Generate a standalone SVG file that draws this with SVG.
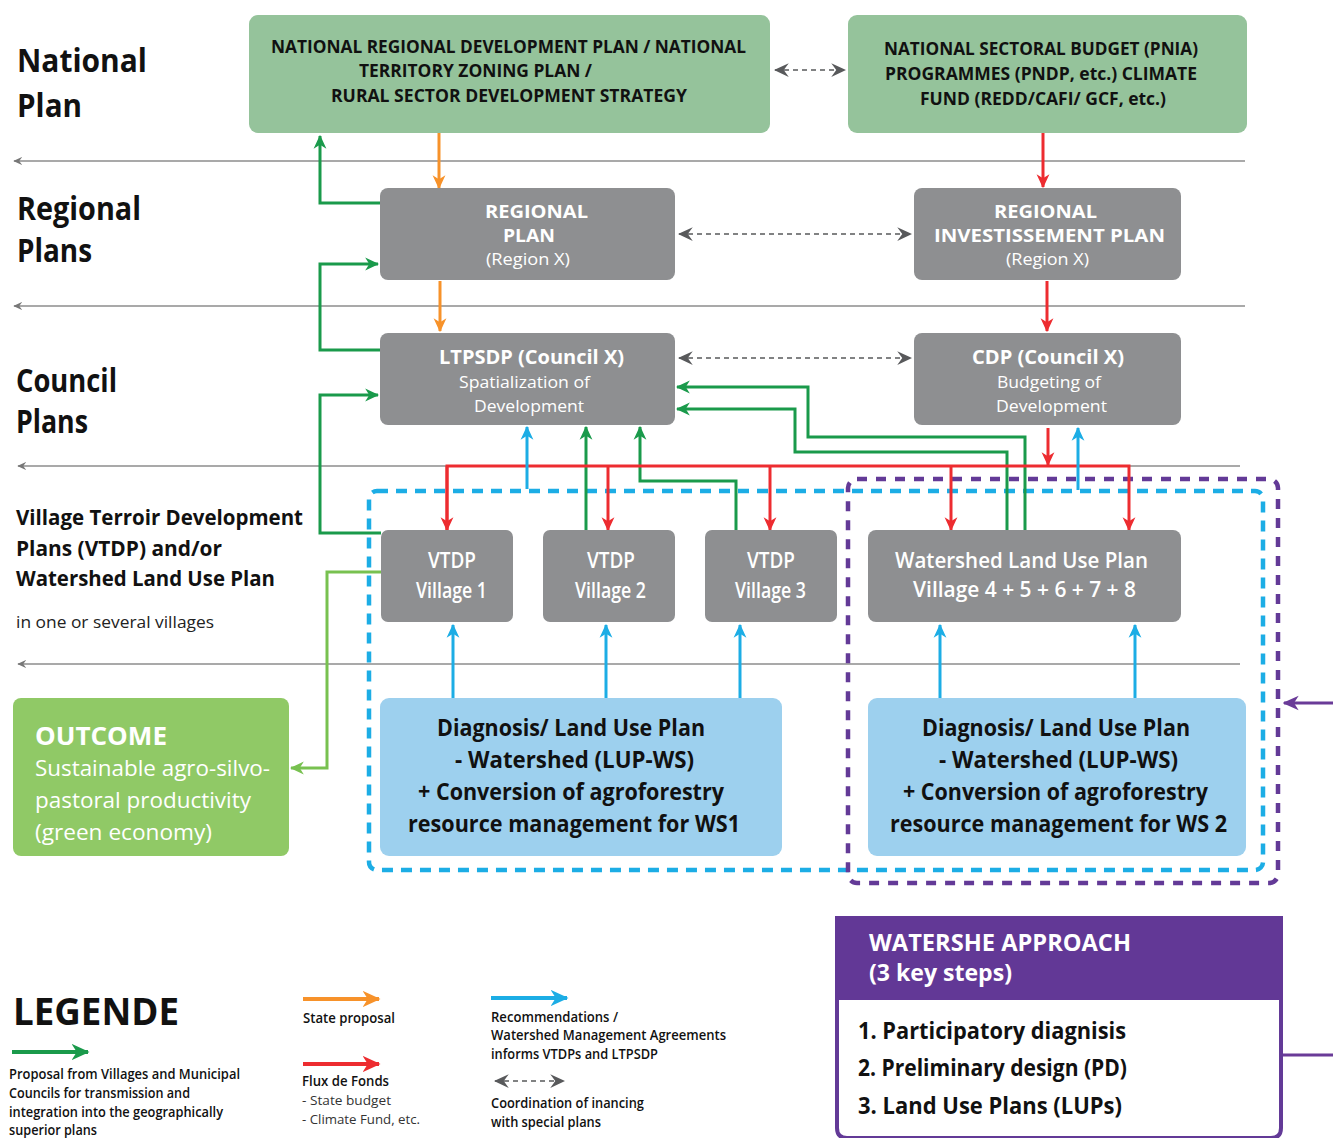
<svg xmlns="http://www.w3.org/2000/svg" width="1333" height="1138" viewBox="0 0 1333 1138">
<style>
text{font-family:"Open Sans","Noto Sans","Liberation Sans",sans-serif}
.b{font-weight:700}
.s{font-weight:600}
.w{fill:#ffffff}
.k{fill:#111111}
.c{stroke-width:3;fill:none}
.sep{stroke:#8c8c8c;stroke-width:1.3;fill:none;marker-start:url(#ms)}
.dg{stroke:#58595b;stroke-width:1.6;stroke-dasharray:5,4;fill:none;marker-start:url(#mg);marker-end:url(#mg)}
.grn{fill:#95c39b}
.gry{fill:#8e8f91}
.blu{fill:#9dd0ee}
</style>
<defs>
<marker id="mG" viewBox="0 0 12 12" refX="11" refY="6" markerWidth="14" markerHeight="14" markerUnits="userSpaceOnUse" orient="auto"><path d="M0,0.5 L12,6 L0,11.5 L3.5,6 z" fill="#1a9a4b"/></marker>
<marker id="mO" viewBox="0 0 12 12" refX="11" refY="6" markerWidth="14" markerHeight="14" markerUnits="userSpaceOnUse" orient="auto"><path d="M0,0.5 L12,6 L0,11.5 L3.5,6 z" fill="#f7922a"/></marker>
<marker id="mR" viewBox="0 0 12 12" refX="11" refY="6" markerWidth="14" markerHeight="14" markerUnits="userSpaceOnUse" orient="auto"><path d="M0,0.5 L12,6 L0,11.5 L3.5,6 z" fill="#ed2c30"/></marker>
<marker id="mB" viewBox="0 0 12 12" refX="11" refY="6" markerWidth="14" markerHeight="14" markerUnits="userSpaceOnUse" orient="auto"><path d="M0,0.5 L12,6 L0,11.5 L3.5,6 z" fill="#1cade5"/></marker>
<marker id="mL" viewBox="0 0 12 12" refX="11" refY="6" markerWidth="14" markerHeight="14" markerUnits="userSpaceOnUse" orient="auto"><path d="M0,0.5 L12,6 L0,11.5 L3.5,6 z" fill="#78c150"/></marker>
<marker id="mP" viewBox="0 0 12 12" refX="11" refY="6" markerWidth="16" markerHeight="16" markerUnits="userSpaceOnUse" orient="auto"><path d="M0,0.5 L12,6 L0,11.5 L3.5,6 z" fill="#6a3b98"/></marker>
<marker id="mg" viewBox="0 0 12 12" refX="11" refY="6" markerWidth="15" markerHeight="15" markerUnits="userSpaceOnUse" orient="auto-start-reverse"><path d="M0,0.5 L12,6 L0,11.5 L4,6 z" fill="#58595b"/></marker>
<marker id="ms" viewBox="0 0 12 12" refX="11" refY="6" markerWidth="9" markerHeight="9" markerUnits="userSpaceOnUse" orient="auto-start-reverse"><path d="M0,0.5 L12,6 L0,11.5 L4,6 z" fill="#777777"/></marker>
<marker id="lG" viewBox="0 0 12 12" refX="11" refY="6" markerWidth="18" markerHeight="18" markerUnits="userSpaceOnUse" orient="auto"><path d="M0,0.5 L12,6 L0,11.5 L3.5,6 z" fill="#1a9a4b"/></marker>
<marker id="lO" viewBox="0 0 12 12" refX="11" refY="6" markerWidth="18" markerHeight="18" markerUnits="userSpaceOnUse" orient="auto"><path d="M0,0.5 L12,6 L0,11.5 L3.5,6 z" fill="#f7922a"/></marker>
<marker id="lR" viewBox="0 0 12 12" refX="11" refY="6" markerWidth="18" markerHeight="18" markerUnits="userSpaceOnUse" orient="auto"><path d="M0,0.5 L12,6 L0,11.5 L3.5,6 z" fill="#ed2c30"/></marker>
<marker id="lB" viewBox="0 0 12 12" refX="11" refY="6" markerWidth="18" markerHeight="18" markerUnits="userSpaceOnUse" orient="auto"><path d="M0,0.5 L12,6 L0,11.5 L3.5,6 z" fill="#1cade5"/></marker>
</defs>

<!-- level separators -->
<g id="separators">
<line class="sep" x1="14" y1="161" x2="1245" y2="161"/>
<line class="sep" x1="14" y1="306" x2="1245" y2="306"/>
<line class="sep" x1="18" y1="466" x2="1240" y2="466"/>
<line class="sep" x1="18" y1="664" x2="1240" y2="664"/>
</g>

<!-- level labels -->
<g id="level-labels" class="k">
<text class="b" x="17" y="72" font-size="32" textLength="130" lengthAdjust="spacingAndGlyphs">National</text>
<text class="b" x="17" y="117" font-size="32" textLength="65" lengthAdjust="spacingAndGlyphs">Plan</text>
<text class="b" x="17" y="220" font-size="32" textLength="124" lengthAdjust="spacingAndGlyphs">Regional</text>
<text class="b" x="17" y="262" font-size="32" textLength="75" lengthAdjust="spacingAndGlyphs">Plans</text>
<text class="b" x="16" y="392" font-size="32" textLength="101" lengthAdjust="spacingAndGlyphs">Council</text>
<text class="b" x="16" y="433" font-size="32" textLength="72" lengthAdjust="spacingAndGlyphs">Plans</text>
<text class="b" x="16" y="525" font-size="21" textLength="287" lengthAdjust="spacingAndGlyphs">Village Terroir Development</text>
<text class="b" x="16" y="556" font-size="21" textLength="206" lengthAdjust="spacingAndGlyphs">Plans (VTDP) and/or</text>
<text class="b" x="16" y="586" font-size="21" textLength="259" lengthAdjust="spacingAndGlyphs">Watershed Land Use Plan</text>
<text x="16" y="628" font-size="17" fill="#222" textLength="198" lengthAdjust="spacingAndGlyphs">in one or several villages</text>
</g>

<!-- group frames -->
<g id="frames" fill="none">
<rect x="369" y="491" width="894" height="379" rx="8" stroke="#1cade5" stroke-width="4.5" stroke-dasharray="11,8"/>
<rect x="848" y="479" width="430" height="404" rx="9" stroke="#633a97" stroke-width="4.5" stroke-dasharray="10,9"/>
</g>

<!-- connectors -->
<g id="connectors">
<line class="dg" x1="775" y1="70" x2="845" y2="70"/>
<line class="dg" x1="679" y1="234" x2="911" y2="234"/>
<line class="dg" x1="679" y1="358" x2="911" y2="358"/>

<line class="c" stroke="#f7922a" x1="439" y1="133" x2="439" y2="188" marker-end="url(#mO)"/>
<line class="c" stroke="#f7922a" x1="440" y1="281" x2="440" y2="331" marker-end="url(#mO)"/>

<line class="c" stroke="#ed2c30" x1="1043" y1="133" x2="1043" y2="187" marker-end="url(#mR)"/>
<line class="c" stroke="#ed2c30" x1="1047" y1="281" x2="1047" y2="331" marker-end="url(#mR)"/>

<polyline class="c" stroke="#1a9a4b" points="380,203 320,203 320,136" marker-end="url(#mG)"/>
<polyline class="c" stroke="#1a9a4b" points="380,350 320,350 320,264 378,264" marker-end="url(#mG)"/>
<polyline class="c" stroke="#1a9a4b" points="381,533 320,533 320,395 378,395" marker-end="url(#mG)"/>
<polyline class="c" stroke="#1a9a4b" points="1025,531 1025,437 808,437 808,387 677,387" marker-end="url(#mG)"/>
<polyline class="c" stroke="#1a9a4b" points="1007,531 1007,452 795,452 795,409 677,409" marker-end="url(#mG)"/>
<line class="c" stroke="#1a9a4b" x1="586" y1="530" x2="586" y2="427" marker-end="url(#mG)"/>
<polyline class="c" stroke="#1a9a4b" points="736,531 736,481 640,481 640,427" marker-end="url(#mG)"/>

<line class="c" stroke="#ed2c30" x1="1048" y1="428" x2="1048" y2="465" marker-end="url(#mR)"/>
<polyline class="c" stroke="#ed2c30" points="447,530 447,466 1129,466 1129,530" marker-end="url(#mR)"/>
<line class="c" stroke="#ed2c30" x1="447" y1="466" x2="447" y2="530" marker-end="url(#mR)"/>
<line class="c" stroke="#ed2c30" x1="608" y1="466" x2="608" y2="530" marker-end="url(#mR)"/>
<line class="c" stroke="#ed2c30" x1="770" y1="466" x2="770" y2="530" marker-end="url(#mR)"/>
<line class="c" stroke="#ed2c30" x1="951" y1="466" x2="951" y2="530" marker-end="url(#mR)"/>

<line class="c" stroke="#1cade5" x1="527" y1="489" x2="527" y2="427" marker-end="url(#mB)"/>
<line class="c" stroke="#1cade5" x1="1078" y1="490" x2="1078" y2="428" marker-end="url(#mB)"/>
<line class="c" stroke="#1cade5" x1="453" y1="698" x2="453" y2="625" marker-end="url(#mB)"/>
<line class="c" stroke="#1cade5" x1="606" y1="698" x2="606" y2="625" marker-end="url(#mB)"/>
<line class="c" stroke="#1cade5" x1="740" y1="698" x2="740" y2="625" marker-end="url(#mB)"/>
<line class="c" stroke="#1cade5" x1="940" y1="698" x2="940" y2="625" marker-end="url(#mB)"/>
<line class="c" stroke="#1cade5" x1="1135" y1="698" x2="1135" y2="625" marker-end="url(#mB)"/>

<polyline class="c" stroke="#78c150" points="381,572 327,572 327,768 291,768" marker-end="url(#mL)"/>

<line class="c" stroke="#6a3b98" x1="1333" y1="703" x2="1284" y2="703" marker-end="url(#mP)"/>
<line class="c" stroke="#6a3b98" x1="1283" y1="1055" x2="1333" y2="1055"/>
</g>

<!-- nodes -->
<g id="national-plan">
<rect class="grn" x="249" y="15" width="521" height="118" rx="9"/>
<text class="b k" x="271" y="53" font-size="17" textLength="475" lengthAdjust="spacingAndGlyphs">NATIONAL REGIONAL DEVELOPMENT PLAN /  NATIONAL</text>
<text class="b k" x="359" y="77" font-size="17" textLength="233" lengthAdjust="spacingAndGlyphs">TERRITORY  ZONING PLAN /</text>
<text class="b k" x="331" y="102" font-size="17" textLength="356" lengthAdjust="spacingAndGlyphs">RURAL SECTOR  DEVELOPMENT STRATEGY</text>
</g>
<g id="national-budget">
<rect class="grn" x="848" y="15" width="399" height="118" rx="9"/>
<text class="b k" x="884" y="55" font-size="17" textLength="314" lengthAdjust="spacingAndGlyphs">NATIONAL SECTORAL BUDGET (PNIA)</text>
<text class="b k" x="885" y="80" font-size="17" textLength="312" lengthAdjust="spacingAndGlyphs">PROGRAMMES (PNDP, etc.) CLIMATE</text>
<text class="b k" x="920" y="105" font-size="17" textLength="246" lengthAdjust="spacingAndGlyphs">FUND (REDD/CAFI/ GCF, etc.)</text>
</g>
<g id="regional-plan">
<rect class="gry" x="380" y="188" width="295" height="92" rx="8"/>
<text class="b w" x="485" y="218" font-size="18" textLength="103" lengthAdjust="spacingAndGlyphs">REGIONAL</text>
<text class="b w" x="503" y="242" font-size="18" textLength="52" lengthAdjust="spacingAndGlyphs">PLAN</text>
<text class="w" x="486" y="265" font-size="17" textLength="84" lengthAdjust="spacingAndGlyphs">(Region X)</text>
</g>
<g id="regional-investment-plan">
<rect class="gry" x="914" y="188" width="267" height="92" rx="8"/>
<text class="b w" x="994" y="218" font-size="18" textLength="103" lengthAdjust="spacingAndGlyphs">REGIONAL</text>
<text class="b w" x="934" y="242" font-size="18" textLength="231" lengthAdjust="spacingAndGlyphs">INVESTISSEMENT PLAN</text>
<text class="w" x="1006" y="265" font-size="17" textLength="83" lengthAdjust="spacingAndGlyphs">(Region X)</text>
</g>
<g id="ltpsdp">
<rect class="gry" x="380" y="333" width="295" height="92" rx="8"/>
<text class="b w" x="439" y="364" font-size="20" textLength="185" lengthAdjust="spacingAndGlyphs">LTPSDP (Council X)</text>
<text class="w" x="459" y="388" font-size="17" textLength="131" lengthAdjust="spacingAndGlyphs">Spatialization of</text>
<text class="w" x="474" y="412" font-size="17" textLength="110" lengthAdjust="spacingAndGlyphs">Development</text>
</g>
<g id="cdp">
<rect class="gry" x="914" y="333" width="267" height="92" rx="8"/>
<text class="b w" x="972" y="364" font-size="20" textLength="152" lengthAdjust="spacingAndGlyphs">CDP (Council X)</text>
<text class="w" x="997" y="388" font-size="17" textLength="104" lengthAdjust="spacingAndGlyphs">Budgeting of</text>
<text class="w" x="996" y="412" font-size="17" textLength="111" lengthAdjust="spacingAndGlyphs">Development</text>
</g>
<g id="vtdp1">
<rect class="gry" x="381" y="530" width="132" height="92" rx="7"/>
<text class="s w" x="428" y="568" font-size="21" textLength="48" lengthAdjust="spacingAndGlyphs">VTDP</text>
<text class="s w" x="416" y="598" font-size="21" textLength="71" lengthAdjust="spacingAndGlyphs">Village 1</text>
</g>
<g id="vtdp2">
<rect class="gry" x="543" y="530" width="132" height="92" rx="7"/>
<text class="s w" x="587" y="568" font-size="21" textLength="48" lengthAdjust="spacingAndGlyphs">VTDP</text>
<text class="s w" x="575" y="598" font-size="21" textLength="71" lengthAdjust="spacingAndGlyphs">Village 2</text>
</g>
<g id="vtdp3">
<rect class="gry" x="705" y="530" width="132" height="92" rx="7"/>
<text class="s w" x="747" y="568" font-size="21" textLength="48" lengthAdjust="spacingAndGlyphs">VTDP</text>
<text class="s w" x="735" y="598" font-size="21" textLength="71" lengthAdjust="spacingAndGlyphs">Village 3</text>
</g>
<g id="watershed-lup">
<rect class="gry" x="868" y="530" width="313" height="92" rx="8"/>
<text class="s w" x="895" y="568" font-size="21" textLength="253" lengthAdjust="spacingAndGlyphs">Watershed Land Use Plan</text>
<text class="s w" x="913" y="597" font-size="21" textLength="223" lengthAdjust="spacingAndGlyphs">Village 4 + 5 + 6 + 7 + 8</text>
</g>
<g id="diagnosis-ws1">
<rect class="blu" x="380" y="698" width="402" height="158" rx="9"/>
<text class="b k" x="437" y="736" font-size="23" textLength="268" lengthAdjust="spacingAndGlyphs">Diagnosis/ Land Use Plan</text>
<text class="b k" x="455" y="768" font-size="23" textLength="239" lengthAdjust="spacingAndGlyphs">- Watershed (LUP-WS)</text>
<text class="b k" x="418" y="800" font-size="23" textLength="306" lengthAdjust="spacingAndGlyphs">+ Conversion of agroforestry</text>
<text class="b k" x="408" y="832" font-size="23" textLength="332" lengthAdjust="spacingAndGlyphs">resource management for WS1</text>
</g>
<g id="diagnosis-ws2">
<rect class="blu" x="868" y="698" width="378" height="158" rx="9"/>
<text class="b k" x="922" y="736" font-size="23" textLength="268" lengthAdjust="spacingAndGlyphs">Diagnosis/ Land Use Plan</text>
<text class="b k" x="939" y="768" font-size="23" textLength="239" lengthAdjust="spacingAndGlyphs">- Watershed (LUP-WS)</text>
<text class="b k" x="903" y="800" font-size="23" textLength="305" lengthAdjust="spacingAndGlyphs">+ Conversion of agroforestry</text>
<text class="b k" x="890" y="832" font-size="23" textLength="337" lengthAdjust="spacingAndGlyphs">resource management for WS 2</text>
</g>
<g id="outcome">
<rect x="13" y="698" width="276" height="158" rx="8" fill="#90c966"/>
<text class="b w" x="35" y="745" font-size="25" textLength="132" lengthAdjust="spacingAndGlyphs">OUTCOME</text>
<text class="w" x="35" y="776" font-size="22" textLength="235" lengthAdjust="spacingAndGlyphs">Sustainable agro-silvo-</text>
<text class="w" x="35" y="808" font-size="22" textLength="216" lengthAdjust="spacingAndGlyphs">pastoral productivity</text>
<text class="w" x="35" y="840" font-size="22" textLength="177" lengthAdjust="spacingAndGlyphs">(green economy)</text>
</g>
<g id="watershed-approach">
<path d="M837,1000 L837,1128 Q837,1138 847,1138 L1271,1138 Q1281,1138 1281,1128 L1281,1000" fill="#ffffff" stroke="#633a97" stroke-width="4"/>
<rect x="835" y="916" width="448" height="84" fill="#623896"/>
<text class="b w" x="869" y="951" font-size="23" textLength="262" lengthAdjust="spacingAndGlyphs">WATERSHE APPROACH</text>
<text class="b w" x="869" y="981" font-size="23" textLength="143" lengthAdjust="spacingAndGlyphs">(3 key steps)</text>
<text class="b k" x="858" y="1039" font-size="23" textLength="268" lengthAdjust="spacingAndGlyphs">1. Participatory diagnisis</text>
<text class="b k" x="858" y="1076" font-size="23" textLength="269" lengthAdjust="spacingAndGlyphs">2. Preliminary design (PD)</text>
<text class="b k" x="858" y="1114" font-size="23" textLength="264" lengthAdjust="spacingAndGlyphs">3. Land Use Plans (LUPs)</text>
</g>

<!-- legend -->
<g id="legend" class="k">
<text class="b" x="13" y="1025" font-size="38" textLength="166" lengthAdjust="spacingAndGlyphs">LEGENDE</text>
<line x1="12" y1="1052" x2="88" y2="1052" stroke="#1a9a4b" stroke-width="4" marker-end="url(#lG)"/>
<text class="s" x="9" y="1079" font-size="13.5" textLength="231" lengthAdjust="spacingAndGlyphs">Proposal from Villages and Municipal</text>
<text class="s" x="9" y="1098" font-size="13.5" textLength="181" lengthAdjust="spacingAndGlyphs">Councils for transmission and</text>
<text class="s" x="9" y="1117" font-size="13.5" textLength="214" lengthAdjust="spacingAndGlyphs">integration into the geographically</text>
<text class="s" x="9" y="1135" font-size="13.5" textLength="88" lengthAdjust="spacingAndGlyphs">superior plans</text>

<line x1="303" y1="999" x2="379" y2="999" stroke="#f7922a" stroke-width="4" marker-end="url(#lO)"/>
<text class="s" x="303" y="1023" font-size="13.5" textLength="92" lengthAdjust="spacingAndGlyphs">State proposal</text>

<line x1="303" y1="1064" x2="379" y2="1064" stroke="#ed2c30" stroke-width="4" marker-end="url(#lR)"/>
<text class="s" x="302" y="1086" font-size="13.5" textLength="87" lengthAdjust="spacingAndGlyphs">Flux de Fonds</text>
<text x="302" y="1105" font-size="13" fill="#333" textLength="89" lengthAdjust="spacingAndGlyphs">- State budget</text>
<text x="302" y="1124" font-size="13" fill="#333" textLength="118" lengthAdjust="spacingAndGlyphs">- Climate Fund, etc.</text>

<line x1="491" y1="998" x2="567" y2="998" stroke="#1cade5" stroke-width="4" marker-end="url(#lB)"/>
<text class="s" x="491" y="1022" font-size="13.5" textLength="127" lengthAdjust="spacingAndGlyphs">Recommendations /</text>
<text class="s" x="491" y="1040" font-size="13.5" textLength="235" lengthAdjust="spacingAndGlyphs">Watershed Management Agreements</text>
<text class="s" x="491" y="1059" font-size="13.5" textLength="167" lengthAdjust="spacingAndGlyphs">informs VTDPs and LTPSDP</text>

<line class="dg" x1="495" y1="1081" x2="564" y2="1081"/>
<text class="s" x="491" y="1108" font-size="13.5" textLength="153" lengthAdjust="spacingAndGlyphs">Coordination of inancing</text>
<text class="s" x="491" y="1127" font-size="13.5" textLength="110" lengthAdjust="spacingAndGlyphs">with special plans</text>
</g>
</svg>
